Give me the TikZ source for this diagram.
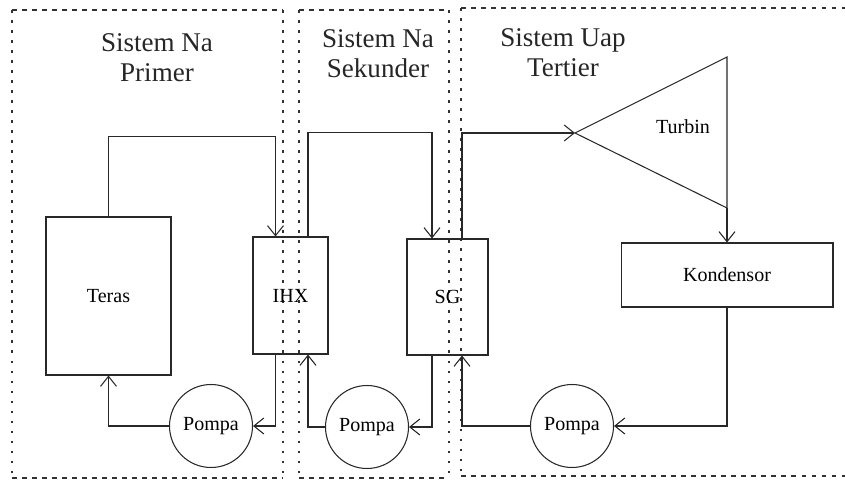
\documentclass[tikz,border=0pt]{standalone}
\usepackage{fontspec}
\setmainfont{Liberation Serif}
\usepackage{tikz}
\usetikzlibrary{arrows.meta,positioning,calc}
\definecolor{GarisPipa}{RGB}{40,40,40}
\definecolor{GarisSekat}{RGB}{50,50,50}
\tikzset{
  kotak/.style={draw=GarisPipa, line width=0.6pt, inner sep=0pt,
                font=\fontsize{11.4}{13}\selectfont},
  pompa/.style={draw=GarisPipa, line width=0.6pt, circle, inner sep=0pt,
                minimum size=1.66cm, font=\fontsize{11.4}{13}\selectfont},
  pipa/.style={-{Straight Barb[length=2mm,width=3.2mm]}, line width=0.6pt, GarisPipa},
  sekatdatar/.style={GarisSekat, line width=1.2pt, dash pattern=on 2.8pt off 2.9pt},
  sekattegak/.style={GarisSekat, line width=1.2pt, dash pattern=on 1.6pt off 4.1pt},
  judul/.style={align=center, font=\fontsize{15.4}{17}\selectfont, text=black!85},
}

\begin{document}
\begin{tikzpicture}[x=0.02cm, y=-0.02cm]
  \useasboundingbox (0,0) rectangle (845,483);

  % Batas tiap sistem
  \draw[sekatdatar] (12,10) -- (283,10);
  \draw[sekatdatar] (12,478) -- (283,478);
  \draw[sekattegak] (12,10) -- (12,478);
  \draw[sekattegak] (283,10) -- (283,478);
  \draw[sekatdatar] (299,10) -- (449,10);
  \draw[sekatdatar] (299,478) -- (449,478);
  \draw[sekattegak] (299,10) -- (299,478);
  \draw[sekattegak] (449,10) -- (449,478);
  \draw[sekatdatar] (461,8) -- (845,8);
  \draw[sekatdatar] (461,476) -- (845,476);
  \draw[sekattegak] (461,8) -- (461,476);

  \node[judul] (jprimer) at (157,58) {Sistem Na\\Primer};
  \node[judul] (jsekunder) at (378,54) {Sistem Na\\Sekunder};
  \node[judul] (jtertier) at (563,53) {Sistem Uap\\Tertier};

  % Komponen
  \node[kotak, minimum width=2.5cm, minimum height=3.16cm] (teras) at (108.5,296) {Teras};
  \node[kotak, minimum width=1.5cm, minimum height=2.34cm] (ihx) at (290.5,295.5) {IHX};
  \node[kotak, minimum width=1.62cm, minimum height=2.32cm] (sg) at (447.5,297) {SG};
  \node[kotak, minimum width=4.24cm, minimum height=1.28cm] (kondensor) at (727,275) {Kondensor};
  \node[pompa] (pompa1) at (211,426) {Pompa};
  \node[pompa] (pompa2) at (367,427) {Pompa};
  \node[pompa] (pompa3) at (572,426) {Pompa};

  % Turbin
  \coordinate (tujung) at (575,133);
  \coordinate (tatas) at (727,57);
  \coordinate (tbawah) at (727,208);
  \draw[GarisPipa, line width=0.6pt] (tujung) -- (tatas) -- (tbawah) -- cycle;
  \node[font=\fontsize{11.4}{13}\selectfont] (turbin) at (683,127) {Turbin};

  % Loop primer
  \draw[pipa] (teras.north) -- ++(0,-80) -| ($(ihx.north)+(-15,0)$);
  \draw[pipa] ($(ihx.south)+(-15,0)$) |- (pompa1.east);
  \draw[pipa] (pompa1.west) -| (teras.south);

  % Loop sekunder
  \draw[pipa] ($(ihx.north)+(17.5,0)$) -- ++(0,-104) -| ($(sg.north)+(-15.5,0)$);
  \draw[pipa] ($(sg.south)+(-15.5,0)$) |- (pompa2.east);
  \draw[pipa] (pompa2.west) -| ($(ihx.south)+(17.5,0)$);

  % Loop tertier
  \draw[pipa] ($(sg.north)+(14.5,0)$) |- (tujung);
  \draw[pipa] (tbawah) -- (kondensor.north);
  \draw[pipa] (kondensor.south) |- (pompa3.east);
  \draw[pipa] (pompa3.west) -| ($(sg.south)+(14.5,0)$);
\end{tikzpicture}
\end{document}
